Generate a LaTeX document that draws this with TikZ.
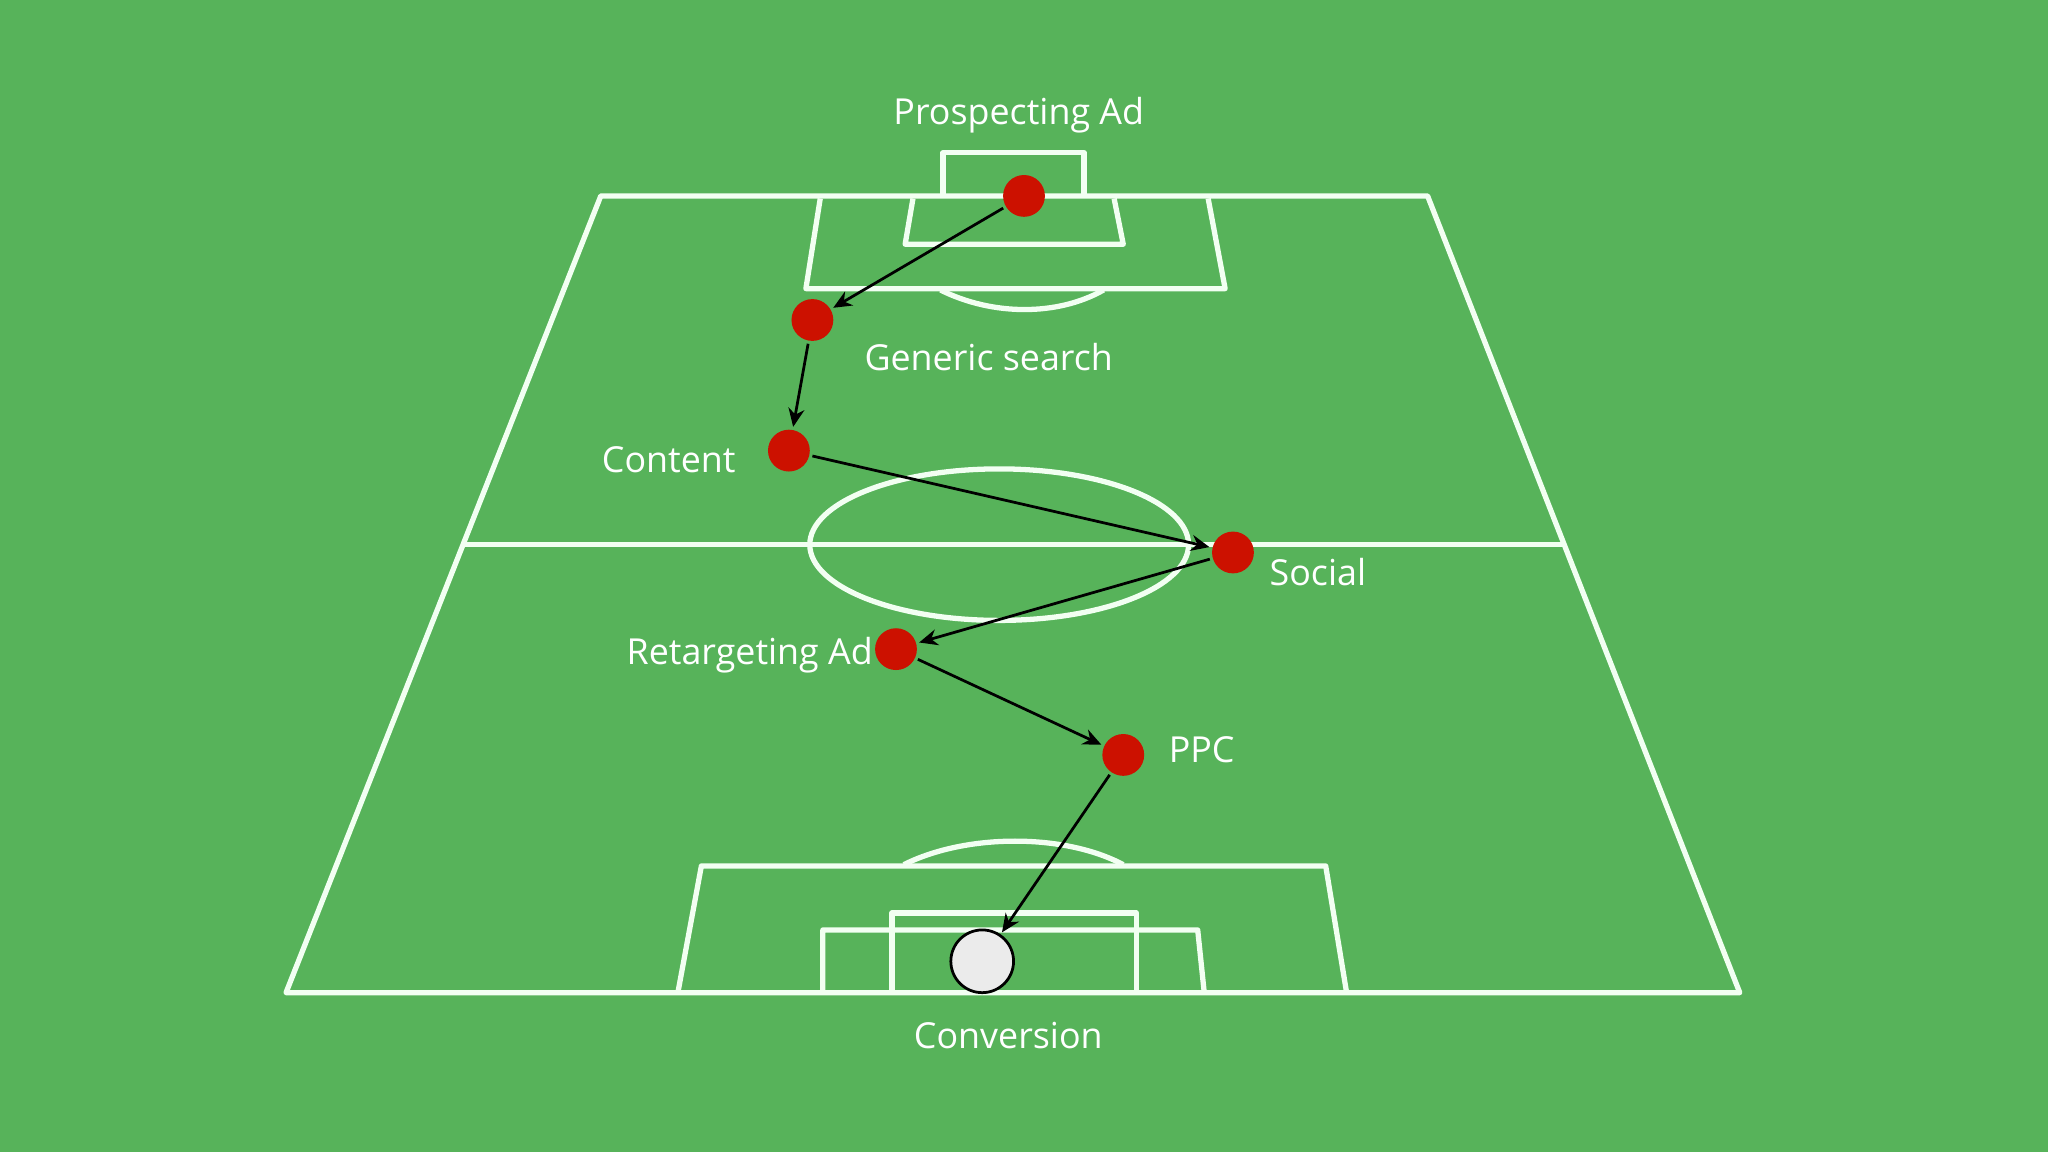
\documentclass[tikz,border=0pt]{standalone}
\usepackage{fontspec}
\setmainfont{Open Sans}
\usetikzlibrary{arrows.meta}
\definecolor{pitch}{HTML}{57B35A}
\definecolor{dotred}{HTML}{CC1100}
\tikzset{
 fld/.style={draw=white!95!green, line width=1.15pt, line join=round},
 dot/.style={circle, fill=dotred, inner sep=0pt, minimum size=0.32cm},
 lbl/.style={text=white, font=\fontsize{7.8pt}{9pt}\selectfont, inner sep=0pt},
 arr/.style={-{Stealth[length=4pt,width=3.5pt]}, line width=0.6pt, black, shorten >=0.5pt, shorten <=0.5pt}
}
\begin{document}
\begin{tikzpicture}[x=0.01cm,y=-0.01cm]
\fill[pitch] (0,0) rectangle (1568,882);
\useasboundingbox (0,0) rectangle (1568,882);
% field
\draw[fld] (460,150) -- (1093,150) -- (1332,760) -- (219,760) -- cycle;
\draw[fld] (356,417) -- (1197,417);
\draw[fld] (765,417) ellipse [x radius=145, y radius=58];
% top
\draw[fld] (628,152) -- (617,221) -- (938,221) -- (925,152);
\draw[fld] (699,152) -- (693,187) -- (860,187) -- (853,152);
\draw[fld] (722,150) -- (722,117) -- (830,117) -- (830,150);
\draw[fld] (720,222) .. controls (760,242) and (810,242) .. (845,222);
% bottom
\draw[fld] (519,760) -- (537,663) -- (1015,663) -- (1031,760);
\draw[fld] (630,760) -- (630,712) -- (917,712) -- (922,760);
\draw[fld] (683,760) -- (683,699) -- (870,699) -- (870,760);
\draw[fld] (692,662) .. controls (740,638) and (815,638) .. (860,662);
% dots
\node[dot] (pa) at (784,150) {};
\node[dot] (gs) at (622,245) {};
\node[dot] (ct) at (604,345) {};
\node[dot] (so) at (944,423) {};
\node[dot] (ra) at (686,497) {};
\node[dot] (pp) at (860,578) {};
\node[circle, draw=black, line width=0.6pt, fill=white!92!black, minimum size=0.48cm, inner sep=0pt] (cv) at (752,736) {};
% labels
\node[lbl] (lpa) at (780,88) {Prospecting Ad};
\node[lbl] (lgs) at (757,273) {Generic search};
\node[lbl] (lct) at (512,352) {Content};
\node[lbl] (lso) at (1009,438) {Social};
\node[lbl] (lra) at (574,502) {Retargeting Ad};
\node[lbl] (lpp) at (920,574) {PPC};
\node[lbl] (lcv) at (772,793) {Conversion};
% arrows
\draw[arr] (pa) -- (gs);
\draw[arr] (gs) -- (ct);
\draw[arr] (ct) -- (so);
\draw[arr] (so) -- (ra);
\draw[arr] (ra) -- (pp);
\draw[arr] (pp) -- (cv);
\end{tikzpicture}
\end{document}
